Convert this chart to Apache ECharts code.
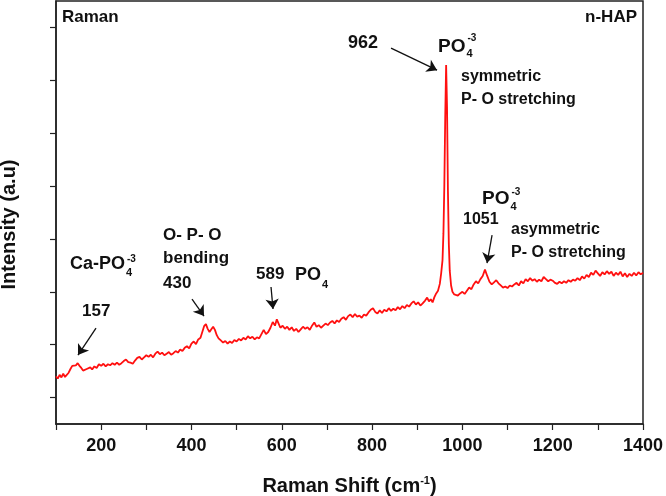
<!DOCTYPE html>
<html><head><meta charset="utf-8">
<script src="https://cdn.jsdelivr.net/npm/echarts@6/dist/echarts.min.js"></script>
<style>html,body{margin:0;padding:0;background:#fff}#c{width:666px;height:496px}</style>
</head><body><div id="c"></div>
<script>
// Raman shift (cm-1) and intensity (a.u.)
const shift = [100,104,108,112,116,120,124,128,132,136,140,144,148,152,156,160,164,168,172,176,180,185,190,195,200,205,210,215,220,225,230,235,240,245,250,255,260,265,270,275,280,285,290,295,300,305,310,315,320,325,330,335,340,345,350,355,360,365,370,375,380,385,390,395,400,405,410,415,420,424,428,432,436,440,444,448,452,456,460,465,470,475,480,485,490,495,500,505,510,515,520,525,530,535,540,545,550,555,560,565,570,575,580,585,589,593,597,602,607,612,617,622,627,632,637,642,647,652,657,662,667,672,677,682,687,692,697,702,707,712,717,722,727,732,737,742,747,752,757,762,767,772,777,782,787,792,797,802,807,812,817,822,827,832,837,842,847,852,857,862,867,872,877,882,887,892,897,902,907,912,917,922,926,930,934,938,942,946,950,953,956,958,960,962,964,966,968,970,972,975,978,982,986,990,995,1000,1005,1010,1015,1020,1025,1030,1035,1040,1045,1050,1055,1060,1065,1070,1075,1080,1085,1090,1095,1100,1105,1110,1115,1120,1125,1130,1135,1140,1145,1150,1155,1160,1165,1170,1175,1180,1185,1190,1195,1200,1205,1210,1215,1220,1225,1230,1235,1240,1245,1250,1255,1260,1265,1270,1275,1280,1285,1290,1295,1300,1305,1310,1315,1320,1325,1330,1335,1340,1345,1350,1355,1360,1365,1370,1375,1380,1385,1390,1395,1400];
const intensity = [0.90,0.86,0.93,0.88,0.95,0.89,0.92,0.97,1.04,1.10,1.13,1.11,1.15,1.10,1.06,1.01,0.98,1.04,1.01,1.07,1.03,1.09,1.06,1.13,1.10,1.14,1.09,1.13,1.11,1.15,1.12,1.16,1.12,1.15,1.19,1.22,1.17,1.16,1.14,1.20,1.25,1.27,1.22,1.26,1.30,1.27,1.31,1.26,1.33,1.37,1.32,1.35,1.30,1.33,1.36,1.31,1.34,1.38,1.35,1.41,1.38,1.44,1.47,1.43,1.52,1.56,1.51,1.60,1.63,1.74,1.85,1.89,1.80,1.74,1.79,1.84,1.78,1.68,1.62,1.58,1.54,1.57,1.52,1.56,1.53,1.59,1.56,1.61,1.58,1.63,1.60,1.66,1.62,1.65,1.60,1.64,1.62,1.70,1.78,1.70,1.74,1.82,1.93,1.86,1.98,1.90,1.82,1.86,1.80,1.84,1.78,1.83,1.76,1.80,1.74,1.79,1.84,1.80,1.83,1.78,1.86,1.92,1.84,1.87,1.82,1.86,1.90,1.87,1.92,1.95,1.90,1.96,1.93,1.99,2.02,1.97,2.04,2.07,2.02,2.08,2.03,2.05,2.01,2.07,2.05,2.11,2.16,2.19,2.12,2.09,2.15,2.10,2.16,2.13,2.19,2.14,2.18,2.15,2.21,2.17,2.23,2.19,2.25,2.22,2.28,2.32,2.26,2.30,2.24,2.28,2.33,2.39,2.32,2.36,2.30,2.40,2.47,2.52,2.65,2.85,3.10,3.60,4.50,5.80,6.79,6.00,4.40,3.40,2.90,2.62,2.50,2.45,2.48,2.43,2.47,2.50,2.46,2.52,2.58,2.55,2.64,2.70,2.66,2.74,2.80,2.92,2.80,2.69,2.64,2.68,2.72,2.66,2.62,2.58,2.60,2.57,2.62,2.60,2.64,2.67,2.62,2.70,2.66,2.74,2.70,2.76,2.71,2.74,2.69,2.73,2.70,2.78,2.74,2.70,2.73,2.71,2.67,2.65,2.69,2.66,2.70,2.67,2.72,2.69,2.73,2.71,2.76,2.72,2.79,2.75,2.82,2.78,2.86,2.82,2.90,2.85,2.80,2.87,2.83,2.89,2.84,2.88,2.80,2.86,2.82,2.88,2.79,2.85,2.78,2.84,2.80,2.86,2.81,2.87,2.83,2.86];
const xTicks = [100,1400,100];           // min, max, interval
const xLabelStep = 200;
const yTickValues = [0.5,1.5,2.5,3.5,4.5,5.5,6.5,7.5];
// annotation arrows: [fromShift, fromIntensity, toShift, toIntensity]
const arrows = [
  [188.6,1.815,148.7,1.304],
  [401.2,2.363,427.8,2.042],
  [576.2,2.590,580.6,2.174],
  [842.0,7.108,943.9,6.692],
  [1065.7,3.573,1054.6,3.043]
];

const FONT = '"Liberation Sans", Arial, sans-serif';
const data = shift.map((s,i)=>[s,intensity[i]]);
const chart = echarts.init(document.getElementById('c'), null, {renderer:'canvas'});

const mctx = document.createElement('canvas').getContext('2d');
function fontOf(size){ return 'bold '+size+'px '+FONT; }
function txt(x,y,text,size,align){
  return {type:'text', x:x, y:y, silent:true, z:100,
    style:{text:text, fill:'#111', font:fontOf(size), textAlign:align||'left', textVerticalAlign:'middle'}};
}
// base text with stacked subscript / superscript
function chem(x,y,base,size,subTxt,subDy,supTxt,supDy){
  mctx.font = fontOf(size);
  const w = mctx.measureText(base).width;
  const out = [txt(x,y,base,size)];
  if (subTxt) out.push(txt(x+w+1,y+subDy,subTxt,11));
  if (supTxt) out.push(txt(x+w+2,y+supDy,supTxt,10));
  return out;
}
const graphics = [].concat(
  [txt(62,17,'Raman',17), txt(637,17,'n-HAP',17,'right')],
  chem(70,264,'Ca-PO',18,'4',9,'-3',-5),
  [txt(82,311,'157',17),
   txt(163,235,'O- P- O',17),
   txt(163,258,'bending',17),
   txt(163,283,'430',17),
   txt(256,274,'589',17)],
  chem(295,275,'PO',18,'4',10,null,0),
  [txt(348,43,'962',18)],
  chem(438,47,'PO',19,'4',7,'-3',-9),
  [txt(461,77,'symmetric',16),
   txt(461,100,'P- O stretching',16)],
  chem(482,199,'PO',19,'4',8,'-3',-7),
  [txt(463,220,'1051',16),
   txt(511,230,'asymmetric',16),
   txt(511,253,'P- O stretching',16)]
);

chart.setOption({
  animation:false,
  backgroundColor:'#fff',
  grid:{left:56,right:23,top:1,bottom:72,show:true,borderColor:'#222',borderWidth:1.5,containLabel:false,outerBoundsMode:'none'},
  xAxis:{type:'value',min:xTicks[0],max:xTicks[1],interval:xTicks[2],
    name:'{a|Raman Shift (cm}{s|-1}{a|)}',nameLocation:'middle',nameGap:51,
    nameTextStyle:{rich:{a:{fontFamily:FONT,fontWeight:'bold',fontSize:20,color:'#111'},
                         s:{fontFamily:FONT,fontWeight:'bold',fontSize:11,color:'#111',verticalAlign:'top',padding:[0,0,12,0]}}},
    axisLine:{lineStyle:{color:'#222',width:1.5}},
    axisTick:{inside:false,length:6,lineStyle:{color:'#222',width:1.2}},
    axisLabel:{margin:13,fontFamily:FONT,fontWeight:'bold',fontSize:18,color:'#111',
      formatter:v=> (v % xLabelStep === 0 ? String(v) : '')},
    splitLine:{show:false}},
  yAxis:{type:'value',min:0,max:8,
    name:'Intensity (a.u)',nameLocation:'middle',nameGap:37,
    nameTextStyle:{fontFamily:FONT,fontWeight:'bold',fontSize:20,color:'#111',padding:[0,24,0,0]},
    axisLine:{show:true,lineStyle:{color:'#222',width:1.5}},
    axisTick:{show:true,inside:false,length:6,customValues:yTickValues,lineStyle:{color:'#222',width:1.2}},
    axisLabel:{show:false},
    splitLine:{show:false}},
  series:[{
    type:'line',data:data,showSymbol:false,symbol:'none',
    lineStyle:{color:'#ff1010',width:1.8},
    markLine:{silent:true,symbol:['none','arrow'],symbolSize:10,
      label:{show:false},
      lineStyle:{color:'#111',type:'solid',width:1.3},
      data:arrows.map(a=>[{coord:[a[0],a[1]]},{coord:[a[2],a[3]]}])}
  }],
  graphic:graphics
});
</script></body></html>
